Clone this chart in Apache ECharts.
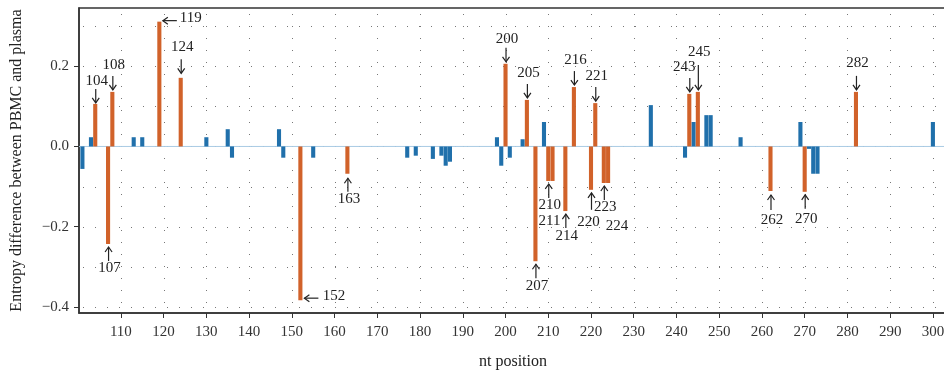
<!DOCTYPE html>
<html><head><meta charset="utf-8">
<script src="https://cdn.jsdelivr.net/npm/echarts@6/dist/echarts.min.js"></script>
<style>html,body{margin:0;padding:0;background:#fff}#c{width:944px;height:372px}</style>
</head><body><div id="c"></div>
<script>
// ---- data ----
const bluePos = [101,103,113,115,130,135,136,147,148,155,177,179,183,185,186,187,198,199,201,204,209,234,242,244,247,248,255,269,271,272,273,300];
const blueVal = [-0.056,0.023,0.023,0.023,0.023,0.043,-0.028,0.043,-0.028,-0.028,-0.028,-0.023,-0.031,-0.023,-0.048,-0.038,0.023,-0.048,-0.028,0.018,0.061,0.103,-0.028,0.061,0.078,0.078,0.023,0.061,-0.006,-0.068,-0.068,0.061];
const orangePos = [104,107,108,119,124,152,163,200,205,207,210,211,214,216,220,221,223,224,243,245,262,270,282];
const orangeVal = [0.106,-0.243,0.136,0.311,0.171,-0.383,-0.068,0.206,0.116,-0.286,-0.086,-0.086,-0.161,0.148,-0.108,0.108,-0.091,-0.091,0.131,0.136,-0.111,-0.113,0.136];
const xTicks = [110,120,130,140,150,160,170,180,190,200,210,220,230,240,250,260,270,280,290,300];
const yTicks = [-0.4,-0.2,0,0.2];
const yGrid = [-0.4,-0.3,-0.2,-0.1,0,0.1,0.2,0.3];
const annotLabels = ['104','107','108','119','124','152','163','200','205','207','210','211','214','216','220','221','223','224','243','245','262','270','282'];
const annotDir = ['down','up','down','left','down','left','up','down','down','up','up','none','up','down','up','down','up','none','down','down','up','up','down'];

// ---- styling / layout (pixels) ----
const X_MIN = 100.2, X_MAX = 303.3, Y_MIN = -0.415, Y_MAX = 0.345;
const FONT = '15px "Liberation Serif", serif';
const ORANGE = '#d1622a', BLUE = '#2070ab';
const annotDefaults = {
  down: {gap: 2, len: 14, dy: -27, dx: 1.5, adx: 0.5},
  up:   {gap: 3, len: 14, dy: 24.5, dx: 1.5, adx: 0.5},
  left: {gap: 3.5, len: 14, dy: -3.5, dx: 3, ady: -1},
  none: {dx: 0, dy: 40}
};
const annotTweak = {
  '104': {dy: -23, gap: 1},
  '124': {gap: 4.5, dy: -31},
  '200': {dy: -25},
  '243': {dx: -5},
  '245': {len: 25, dy: -40},
  '282': {dy: -28.5},
  '152': {gap: 4, ady: -2, dx: 4.4, dy: -4.3},
  '163': {gap: 4.5, dy: 25.5, len: 13.5},
  '220': {len: 17, dy: 32, dx: -2.5},
  '262': {gap: 4, len: 15, dy: 29},
  '270': {dy: 27},
  '211': {dx: -3, dy: 40},
  '224': {dx: 9, dy: 42.6}
};

const chart = echarts.init(document.getElementById('c'), null, {renderer: 'canvas'});
const lineSt = {stroke: '#222', lineWidth: 1.2, fill: null};

function annotRender(params, api) {
  const i = api.value(2);
  const p = api.coord([api.value(0), api.value(1)]);
  const dir = annotDir[i], lab = annotLabels[i];
  const t = Object.assign({}, annotDefaults[dir], annotTweak[lab] || {});
  const cx = p[0], ey = p[1];
  const ch = [];
  const txt = (x, y, align) => ({type: 'text', style: {text: lab, x: x, y: y, align: align, verticalAlign: 'middle', font: FONT, fill: '#222'}});
  if (dir === 'down') {
    const tip = ey - t.gap, tail = tip - t.len, ax = cx + t.adx;
    ch.push({type: 'line', shape: {x1: ax, y1: tail, x2: ax, y2: tip}, style: lineSt});
    ch.push({type: 'polyline', shape: {points: [[ax - 3.5, tip - 5], [ax, tip], [ax + 3.5, tip - 5]]}, style: lineSt});
    ch.push(txt(cx + t.dx, ey + t.dy, 'center'));
  } else if (dir === 'up') {
    const tip = ey + t.gap, tail = tip + t.len, ax = cx + t.adx;
    ch.push({type: 'line', shape: {x1: ax, y1: tail, x2: ax, y2: tip}, style: lineSt});
    ch.push({type: 'polyline', shape: {points: [[ax - 3.5, tip + 5], [ax, tip], [ax + 3.5, tip + 5]]}, style: lineSt});
    ch.push(txt(cx + t.dx, ey + t.dy, 'center'));
  } else if (dir === 'left') {
    const tip = cx + t.gap, tail = tip + t.len, ay = ey + t.ady;
    ch.push({type: 'line', shape: {x1: tail, y1: ay, x2: tip, y2: ay}, style: lineSt});
    ch.push({type: 'polyline', shape: {points: [[tip + 5, ay - 3.5], [tip, ay], [tip + 5, ay + 3.5]]}, style: lineSt});
    ch.push(txt(tail + t.dx, ey + t.dy, 'left'));
  } else {
    ch.push(txt(cx + t.dx, ey + t.dy, 'center'));
  }
  return {type: 'group', children: ch};
}

const dotted = {stroke: '#777', lineWidth: 1, lineDash: [1, 11]};

const option = {
  animation: false,
  backgroundColor: '#fff',
  grid: {left: 79, width: 868, top: 8, bottom: 59, show: true, borderColor: '#333', borderWidth: 1.5, backgroundColor: 'transparent', containLabel: false, outerBoundsMode: 'none'},
  xAxis: {
    type: 'value', min: X_MIN, max: X_MAX,
    name: 'nt position', nameLocation: 'middle', nameGap: 41,
    nameTextStyle: {fontFamily: 'Liberation Serif', fontSize: 16, color: '#222'},
    axisLine: {show: true, onZero: false, lineStyle: {color: '#333', width: 1.5}},
    axisTick: {show: true, customValues: xTicks, length: 5, lineStyle: {color: '#333', width: 1}},
    axisLabel: {customValues: xTicks, margin: 12, fontFamily: 'Liberation Serif', fontSize: 15, color: '#333', showMinLabel: true, showMaxLabel: true},
    splitLine: {show: false}
  },
  yAxis: {
    type: 'value', min: Y_MIN, max: Y_MAX,
    name: 'Entropy difference between PBMC and plasma', nameLocation: 'middle', nameGap: 54,
    nameTextStyle: {fontFamily: 'Liberation Serif', fontSize: 16, color: '#222'},
    axisLine: {show: true, lineStyle: {color: '#333', width: 1.5}},
    axisTick: {show: true, customValues: yTicks, length: 5, lineStyle: {color: '#333', width: 1}},
    axisLabel: {customValues: yTicks, margin: 10, fontFamily: 'Liberation Serif', fontSize: 15, color: '#333',
      formatter: v => (v < -1e-9 ? '\u2212' : '') + Math.abs(v).toFixed(1)},
    splitLine: {show: false}
  },
  series: [
    {
      type: 'custom', name: 'hgrid', silent: true, z: 1,
      data: yGrid.map(v => [X_MIN, v]),
      renderItem: (params, api) => {
        const cs = params.coordSys;
        const y = Math.round(api.coord([api.value(0), api.value(1)])[1]) + 0.5;
        return {type: 'line', shape: {x1: cs.x + 4, y1: y, x2: cs.x + cs.width, y2: y}, style: dotted};
      }
    },
    {
      type: 'custom', name: 'vgrid', silent: true, z: 1,
      data: xTicks.map(v => [v, Y_MIN]),
      renderItem: (params, api) => {
        const cs = params.coordSys;
        const x = Math.round(api.coord([api.value(0), api.value(1)])[0]) + 0.5;
        return {type: 'line', shape: {x1: x, y1: cs.y + 6, x2: x, y2: cs.y + cs.height}, style: dotted};
      }
    },
    {
      type: 'custom', name: 'zero', silent: true, z: 2,
      data: [[X_MIN, 0]],
      renderItem: (params, api) => {
        const cs = params.coordSys;
        const y = api.coord([api.value(0), api.value(1)])[1];
        return {type: 'line', shape: {x1: cs.x, y1: y, x2: cs.x + cs.width, y2: y}, style: {stroke: '#a9cbe4', lineWidth: 1}};
      }
    },
    {
      type: 'bar', name: 'blue', z: 3, barWidth: 4.1, barGap: '-100%',
      itemStyle: {color: BLUE},
      data: bluePos.map((p, i) => [p, blueVal[i]])
    },
    {
      type: 'bar', name: 'orange', z: 3, barWidth: 4.1, barGap: '-100%',
      itemStyle: {color: ORANGE},
      data: orangePos.map((p, i) => [p, orangeVal[i]])
    },
    {
      type: 'custom', name: 'annot', silent: true, z: 4, clip: false,
      data: annotLabels.map((l, i) => [Number(l), orangeVal[orangePos.indexOf(Number(l))], i]),
      renderItem: annotRender
    }
  ]
};
chart.setOption(option);
</script>
</body></html>
